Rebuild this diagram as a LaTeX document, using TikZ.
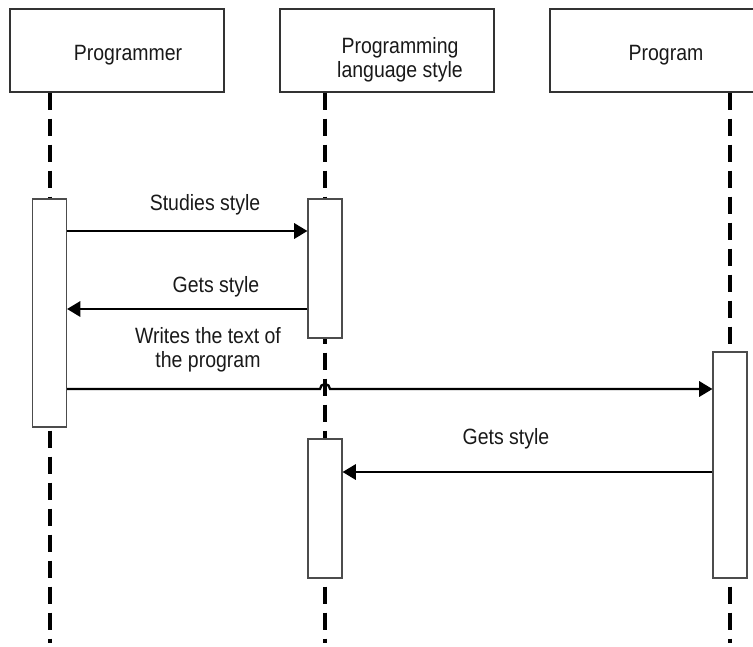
\documentclass[tikz,border=0pt]{standalone}
\usepackage{fontspec}
\setmainfont[FakeStretch=0.88]{Liberation Sans}
\usetikzlibrary{arrows.meta,positioning}
\tikzset{
	headbox/.style={draw=black!80, line width=0.9pt, minimum width=160.5pt, minimum height=62.25pt, inner sep=0pt},
	actbox/.style={draw=black!70, fill=white, line width=0.8pt, minimum width=25.5pt, inner sep=0pt},
	lifeline/.style={line width=2.3pt, dash pattern=on 12.75pt off 6.75pt},
	msg/.style={line width=1.7pt, -{Triangle[length=10pt,width=11.5pt]}},
	lbl/.style={font=\fontsize{16.6}{18}\selectfont, text=black!90, align=center, inner sep=0pt}
}
\begin{document}
\begin{tikzpicture}[x=0.75pt,y=-0.75pt]
		\useasboundingbox (0,0) rectangle (753,646);
		\node[headbox] (hdrA) at (117,50.5) {};
		\node[headbox] (hdrB) at (387,50.5) {};
		\node[headbox] (hdrC) at (657,50.5) {};
		\node[lbl, anchor=base] (nameA) at (128,60) {Programmer};
		\node[lbl] (nameB) at (400,60) {Programming\\language style};
		\node[lbl, anchor=base] (nameC) at (666,60) {Program};
		\coordinate (endA) at (50,643);
		\coordinate (endB) at (325,643);
		\coordinate (endC) at (730,643);
		\draw[lifeline] (hdrA.south -| endA) -- (endA);
		\draw[lifeline] (hdrB.south -| endB) -- (endB);
		\draw[lifeline] (hdrC.south -| endC) -- (endC);
		\node[actbox, minimum height=171pt] (actA) at (49.5,313) {};
		\node[actbox, minimum height=104.25pt] (actB1) at (325,268.5) {};
		\node[actbox, minimum height=104.25pt] (actB2) at (325,508.5) {};
		\node[actbox, minimum height=169.5pt] (actC) at (730,465) {};
		\coordinate (m1) at (0,231);
		\coordinate (m2) at (0,309);
		\coordinate (m3) at (0,389);
		\coordinate (m4) at (0,472);
		\draw[msg] (actA.east |- m1) -- (actB1.west |- m1);
		\node[lbl, anchor=base] (txt1) at (205,210) {Studies style};
		\draw[msg] (actB1.west |- m2) -- (actA.east |- m2);
		\node[lbl, anchor=base] (txt2) at (216,292) {Gets style};
		\draw[msg] (actA.east |- m3) -- ([xshift=-3.75pt]endB |- m3) arc[start angle=180, end angle=0, radius=3.75pt] -- (actC.west |- m3);
		\node[lbl] (txt3) at (208,350) {Writes the text of\\the program};
		\draw[msg] (actC.west |- m4) -- (actB2.east |- m4);
		\node[lbl, anchor=base] (txt4) at (506,444) {Gets style};
	\end{tikzpicture}
\end{document}
